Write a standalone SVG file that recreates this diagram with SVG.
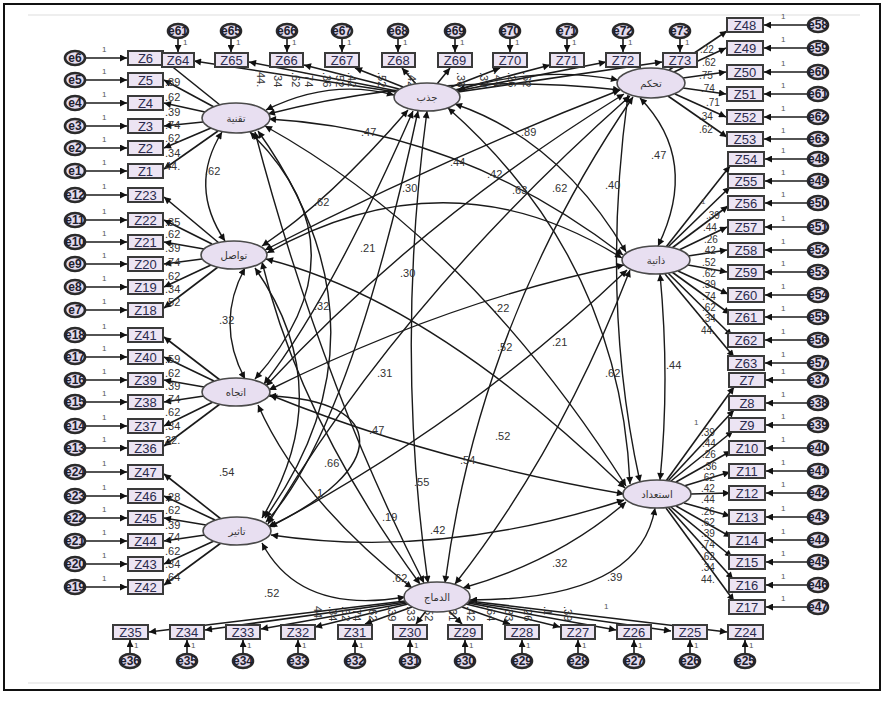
<svg xmlns="http://www.w3.org/2000/svg" width="890" height="712" viewBox="0 0 890 712">
<style>
.bx{fill:#ece4f3;stroke:#3a3a3a;stroke-width:2}
.bt{font-family:"Liberation Sans",Arial,sans-serif;font-size:13px;fill:#2b2b4d;text-anchor:middle}
.er{fill:#e4dcef;stroke:#2a2a2a;stroke-width:2.6}
.et{font-family:"Liberation Sans",Arial,sans-serif;font-size:12px;font-weight:bold;fill:#1e1e2e;text-anchor:middle}
.lv{fill:#e8dff1;stroke:#4a4a4a;stroke-width:1.6}
.lt{font-family:"DejaVu Sans","Noto Sans",sans-serif;font-size:10px;fill:#333;text-anchor:middle}
.ln{stroke:#1a1a1a;stroke-width:1.6;fill:none;marker-end:url(#ah)}
.cv{stroke:#1a1a1a;stroke-width:1.4;fill:none;marker-start:url(#ah);marker-end:url(#ah)}
.lb{font-family:"Liberation Sans",Arial,sans-serif;font-size:11px;fill:#333}
.ls{font-family:"Liberation Sans",Arial,sans-serif;font-size:10px;fill:#333}
.one{font-family:"Liberation Sans",Arial,sans-serif;font-size:8px;fill:#555}
</style>
<defs>
<marker id="ah" viewBox="0 0 10 10" refX="10" refY="5" markerWidth="10" markerHeight="7" markerUnits="userSpaceOnUse" orient="auto-start-reverse"><path d="M0,0 L10,5 L0,10 z" fill="#111"/></marker>
</defs>
<rect x="0" y="0" width="890" height="712" fill="#fff"/>
<rect x="4" y="4" width="876" height="686" fill="none" stroke="#111" stroke-width="2"/>
<line x1="28" y1="15" x2="860" y2="15" stroke="#eeeeee" stroke-width="2"/>
<line x1="28" y1="683" x2="860" y2="683" stroke="#eeeeee" stroke-width="2"/>

<g id="connectors">
<!-- covariances between latent factors -->
<path class="cv" d="M222,132 Q188,186 225,241"/>
<path class="cv" d="M250,132 Q370,250 255,379"/>
<path class="cv" d="M258,131 Q400,330 265,518"/>
<path class="cv" d="M245,268 Q215,323 245,379"/>
<path class="cv" d="M255,268 Q340,390 262,518"/>
<path class="cv" d="M269,396 C390,400 390,470 268,527"/>
<path class="cv" d="M266,110 Q330,78 394,95"/>
<path class="cv" d="M268,114 Q440,70 620,90"/>
<path class="cv" d="M269,119 Q460,130 623,255"/>
<path class="cv" d="M265,126 Q470,240 626,486"/>
<path class="cv" d="M255,132 Q320,380 424,583"/>
<path class="cv" d="M458,90 Q540,65 618,80"/>
<path class="cv" d="M408,110 Q330,200 262,246"/>
<path class="cv" d="M413,111 Q330,300 264,384"/>
<path class="cv" d="M418,111 Q350,430 266,522"/>
<path class="cv" d="M455,104 Q560,140 626,252"/>
<path class="cv" d="M448,108 Q620,260 630,484"/>
<path class="cv" d="M427,111 Q395,350 428,583"/>
<path class="cv" d="M620,90 Q440,160 265,250"/>
<path class="cv" d="M624,94 Q420,220 266,386"/>
<path class="cv" d="M630,96 Q400,300 268,524"/>
<path class="cv" d="M640,98 Q700,160 658,246"/>
<path class="cv" d="M628,95 Q600,300 640,482"/>
<path class="cv" d="M633,97 Q480,320 445,583"/>
<path class="cv" d="M622,258 Q450,150 267,253"/>
<path class="cv" d="M624,265 Q450,300 269,390"/>
<path class="cv" d="M627,270 Q470,420 270,527"/>
<path class="cv" d="M660,274 Q670,380 660,480"/>
<path class="cv" d="M630,270 Q560,450 455,584"/>
<path class="cv" d="M625,488 Q430,300 266,259"/>
<path class="cv" d="M624,494 Q430,460 270,395"/>
<path class="cv" d="M624,500 Q440,560 271,535"/>
<path class="cv" d="M470,600 Q640,600 655,508"/>
<path class="cv" d="M463,588 Q560,560 626,502"/>
<path class="cv" d="M420,584 Q300,420 262,262"/>
<path class="cv" d="M412,588 Q300,500 258,405"/>
<path class="cv" d="M405,597 Q300,615 262,543"/>

<!-- loadings: left factors -->
<line class="ln" x1="220" y1="105" x2="164" y2="60"/>
<line class="ln" x1="214" y1="107" x2="164" y2="80"/>
<line class="ln" x1="205" y1="112" x2="164" y2="103"/>
<line class="ln" x1="203" y1="122" x2="164" y2="126"/>
<line class="ln" x1="211" y1="128" x2="164" y2="148"/>
<line class="ln" x1="218" y1="131" x2="164" y2="169"/>

<line class="ln" x1="219" y1="243" x2="164" y2="197"/>
<line class="ln" x1="212" y1="244" x2="164" y2="220"/>
<line class="ln" x1="204" y1="249" x2="164" y2="242"/>
<line class="ln" x1="202" y1="259" x2="164" y2="264"/>
<line class="ln" x1="211" y1="265" x2="164" y2="287"/>
<line class="ln" x1="218" y1="267" x2="164" y2="308"/>

<line class="ln" x1="220" y1="380" x2="164" y2="337"/>
<line class="ln" x1="214" y1="381" x2="164" y2="357"/>
<line class="ln" x1="204" y1="387" x2="164" y2="380"/>
<line class="ln" x1="204" y1="396" x2="164" y2="402"/>
<line class="ln" x1="213" y1="402" x2="164" y2="426"/>
<line class="ln" x1="220" y1="404" x2="164" y2="446"/>

<line class="ln" x1="221" y1="519" x2="164" y2="474"/>
<line class="ln" x1="215" y1="520" x2="164" y2="496"/>
<line class="ln" x1="206" y1="525" x2="164" y2="518"/>
<line class="ln" x1="205" y1="535" x2="164" y2="541"/>
<line class="ln" x1="214" y1="541" x2="164" y2="564"/>
<line class="ln" x1="221" y1="543" x2="164" y2="585"/>

<!-- loadings: top factor -->
<line class="ln" x1="396" y1="92" x2="194" y2="61"/>
<line class="ln" x1="397" y1="91" x2="249" y2="62"/>
<line class="ln" x1="399" y1="89" x2="304" y2="65"/>
<line class="ln" x1="403" y1="87" x2="355" y2="68"/>
<line class="ln" x1="416" y1="84" x2="402" y2="68"/>
<line class="ln" x1="437" y1="84" x2="450" y2="68"/>
<line class="ln" x1="451" y1="87" x2="500" y2="68"/>
<line class="ln" x1="455" y1="90" x2="550" y2="65"/>
<line class="ln" x1="457" y1="91" x2="606" y2="62"/>
<line class="ln" x1="458" y1="92" x2="662" y2="62"/>

<!-- loadings: right factors -->
<line class="ln" x1="669" y1="70" x2="727" y2="31"/>
<line class="ln" x1="674" y1="72" x2="726" y2="48"/>
<line class="ln" x1="683" y1="78" x2="726" y2="72"/>
<line class="ln" x1="683" y1="88" x2="726" y2="94"/>
<line class="ln" x1="675" y1="94" x2="726" y2="117"/>
<line class="ln" x1="668" y1="96" x2="727" y2="137"/>

<line class="ln" x1="666" y1="247" x2="730" y2="166"/>
<line class="ln" x1="668" y1="247" x2="730" y2="187"/>
<line class="ln" x1="672" y1="248" x2="728" y2="206"/>
<line class="ln" x1="679" y1="250" x2="727" y2="227"/>
<line class="ln" x1="688" y1="256" x2="727" y2="250"/>
<line class="ln" x1="688" y1="265" x2="727" y2="272"/>
<line class="ln" x1="678" y1="271" x2="728" y2="294"/>
<line class="ln" x1="672" y1="272" x2="730" y2="314"/>
<line class="ln" x1="668" y1="273" x2="732" y2="336"/>
<line class="ln" x1="665" y1="274" x2="734" y2="357"/>

<line class="ln" x1="666" y1="481" x2="734" y2="387"/>
<line class="ln" x1="668" y1="481" x2="734" y2="410"/>
<line class="ln" x1="671" y1="481" x2="733" y2="431"/>
<line class="ln" x1="676" y1="482" x2="731" y2="451"/>
<line class="ln" x1="684" y1="486" x2="730" y2="472"/>
<line class="ln" x1="691" y1="494" x2="730" y2="493"/>
<line class="ln" x1="684" y1="503" x2="730" y2="516"/>
<line class="ln" x1="676" y1="506" x2="731" y2="537"/>
<line class="ln" x1="671" y1="507" x2="732" y2="557"/>
<line class="ln" x1="668" y1="507" x2="733" y2="579"/>
<line class="ln" x1="666" y1="508" x2="734" y2="601"/>

<!-- loadings: bottom factor -->
<line class="ln" x1="405" y1="601" x2="149" y2="632"/>
<line class="ln" x1="406" y1="602" x2="205" y2="630"/>
<line class="ln" x1="407" y1="603" x2="261" y2="629"/>
<line class="ln" x1="408" y1="604" x2="315" y2="627"/>
<line class="ln" x1="412" y1="607" x2="365" y2="624"/>
<line class="ln" x1="426" y1="611" x2="416" y2="624"/>
<line class="ln" x1="449" y1="611" x2="462" y2="624"/>
<line class="ln" x1="462" y1="607" x2="510" y2="624"/>
<line class="ln" x1="466" y1="604" x2="560" y2="627"/>
<line class="ln" x1="468" y1="603" x2="616" y2="630"/>
<line class="ln" x1="468" y1="602" x2="671" y2="631"/>
<line class="ln" x1="469" y1="601" x2="727" y2="632"/>

<!-- error arrows left -->
<line class="ln" x1="86" y1="58" x2="127" y2="58"/>
<line class="ln" x1="86" y1="80" x2="127" y2="80"/>
<line class="ln" x1="86" y1="103" x2="127" y2="103"/>
<line class="ln" x1="86" y1="126" x2="127" y2="126"/>
<line class="ln" x1="86" y1="148" x2="127" y2="148"/>
<line class="ln" x1="86" y1="171" x2="127" y2="171"/>
<line class="ln" x1="86" y1="195" x2="127" y2="195"/>
<line class="ln" x1="86" y1="220" x2="127" y2="220"/>
<line class="ln" x1="86" y1="242" x2="127" y2="242"/>
<line class="ln" x1="86" y1="264" x2="127" y2="264"/>
<line class="ln" x1="86" y1="287" x2="127" y2="287"/>
<line class="ln" x1="86" y1="310" x2="127" y2="310"/>
<line class="ln" x1="86" y1="335" x2="127" y2="335"/>
<line class="ln" x1="86" y1="357" x2="127" y2="357"/>
<line class="ln" x1="86" y1="380" x2="127" y2="380"/>
<line class="ln" x1="86" y1="402" x2="127" y2="402"/>
<line class="ln" x1="86" y1="426" x2="127" y2="426"/>
<line class="ln" x1="86" y1="448" x2="127" y2="448"/>
<line class="ln" x1="86" y1="472" x2="127" y2="472"/>
<line class="ln" x1="86" y1="496" x2="127" y2="496"/>
<line class="ln" x1="86" y1="518" x2="127" y2="518"/>
<line class="ln" x1="86" y1="541" x2="127" y2="541"/>
<line class="ln" x1="86" y1="564" x2="127" y2="564"/>
<line class="ln" x1="86" y1="587" x2="127" y2="587"/>
<!-- error arrows top -->
<line class="ln" x1="178" y1="38" x2="178" y2="52"/>
<line class="ln" x1="231" y1="38" x2="231" y2="52"/>
<line class="ln" x1="287" y1="38" x2="287" y2="52"/>
<line class="ln" x1="342" y1="38" x2="342" y2="52"/>
<line class="ln" x1="398" y1="38" x2="398" y2="52"/>
<line class="ln" x1="455" y1="38" x2="455" y2="52"/>
<line class="ln" x1="510" y1="38" x2="510" y2="52"/>
<line class="ln" x1="567" y1="38" x2="567" y2="52"/>
<line class="ln" x1="623" y1="38" x2="623" y2="52"/>
<line class="ln" x1="680" y1="38" x2="680" y2="52"/>
<!-- error arrows right -->
<line class="ln" x1="807" y1="25" x2="764" y2="25"/>
<line class="ln" x1="807" y1="48" x2="764" y2="48"/>
<line class="ln" x1="807" y1="72" x2="764" y2="72"/>
<line class="ln" x1="807" y1="94" x2="764" y2="94"/>
<line class="ln" x1="807" y1="117" x2="764" y2="117"/>
<line class="ln" x1="807" y1="139" x2="764" y2="139"/>
<line class="ln" x1="807" y1="159" x2="765" y2="159"/>
<line class="ln" x1="807" y1="181" x2="765" y2="181"/>
<line class="ln" x1="807" y1="203" x2="765" y2="203"/>
<line class="ln" x1="807" y1="227" x2="765" y2="227"/>
<line class="ln" x1="807" y1="250" x2="765" y2="250"/>
<line class="ln" x1="807" y1="272" x2="765" y2="272"/>
<line class="ln" x1="807" y1="295" x2="765" y2="295"/>
<line class="ln" x1="807" y1="317" x2="765" y2="317"/>
<line class="ln" x1="807" y1="340" x2="765" y2="340"/>
<line class="ln" x1="807" y1="363" x2="765" y2="363"/>
<line class="ln" x1="807" y1="380" x2="766" y2="380"/>
<line class="ln" x1="807" y1="403" x2="766" y2="403"/>
<line class="ln" x1="807" y1="425" x2="766" y2="425"/>
<line class="ln" x1="807" y1="448" x2="766" y2="448"/>
<line class="ln" x1="807" y1="471" x2="766" y2="471"/>
<line class="ln" x1="807" y1="493" x2="766" y2="493"/>
<line class="ln" x1="807" y1="517" x2="766" y2="517"/>
<line class="ln" x1="807" y1="540" x2="766" y2="540"/>
<line class="ln" x1="807" y1="562" x2="766" y2="562"/>
<line class="ln" x1="807" y1="585" x2="766" y2="585"/>
<line class="ln" x1="807" y1="607" x2="766" y2="607"/>
<!-- error arrows bottom -->
<line class="ln" x1="130" y1="654" x2="130" y2="640"/>
<line class="ln" x1="187" y1="654" x2="187" y2="640"/>
<line class="ln" x1="243" y1="654" x2="243" y2="640"/>
<line class="ln" x1="298" y1="654" x2="298" y2="640"/>
<line class="ln" x1="355" y1="654" x2="355" y2="640"/>
<line class="ln" x1="410" y1="654" x2="410" y2="640"/>
<line class="ln" x1="465" y1="654" x2="465" y2="640"/>
<line class="ln" x1="522" y1="654" x2="522" y2="640"/>
<line class="ln" x1="578" y1="654" x2="578" y2="640"/>
<line class="ln" x1="634" y1="654" x2="634" y2="640"/>
<line class="ln" x1="690" y1="654" x2="690" y2="640"/>
<line class="ln" x1="745" y1="654" x2="745" y2="640"/>
</g>

<g id="fixed-ones">
<text class="one" x="102" y="52">1</text><text class="one" x="102" y="74">1</text><text class="one" x="102" y="97">1</text><text class="one" x="102" y="120">1</text><text class="one" x="102" y="142">1</text><text class="one" x="102" y="165">1</text><text class="one" x="102" y="189">1</text><text class="one" x="102" y="214">1</text><text class="one" x="102" y="236">1</text><text class="one" x="102" y="258">1</text><text class="one" x="102" y="281">1</text><text class="one" x="102" y="304">1</text><text class="one" x="102" y="329">1</text><text class="one" x="102" y="351">1</text><text class="one" x="102" y="374">1</text><text class="one" x="102" y="396">1</text><text class="one" x="102" y="420">1</text><text class="one" x="102" y="442">1</text><text class="one" x="102" y="466">1</text><text class="one" x="102" y="490">1</text><text class="one" x="102" y="512">1</text><text class="one" x="102" y="535">1</text><text class="one" x="102" y="558">1</text><text class="one" x="102" y="581">1</text>
<text class="one" x="183" y="45">1</text><text class="one" x="236" y="45">1</text><text class="one" x="292" y="45">1</text><text class="one" x="347" y="45">1</text><text class="one" x="403" y="45">1</text><text class="one" x="460" y="45">1</text><text class="one" x="515" y="45">1</text><text class="one" x="572" y="45">1</text><text class="one" x="628" y="45">1</text><text class="one" x="685" y="45">1</text>
<text class="one" x="781" y="19">1</text><text class="one" x="781" y="42">1</text><text class="one" x="781" y="66">1</text><text class="one" x="781" y="88">1</text><text class="one" x="781" y="111">1</text><text class="one" x="781" y="133">1</text><text class="one" x="781" y="153">1</text><text class="one" x="781" y="175">1</text><text class="one" x="781" y="197">1</text><text class="one" x="781" y="221">1</text><text class="one" x="781" y="244">1</text><text class="one" x="781" y="266">1</text><text class="one" x="781" y="289">1</text><text class="one" x="781" y="311">1</text><text class="one" x="781" y="334">1</text><text class="one" x="781" y="357">1</text><text class="one" x="781" y="374">1</text><text class="one" x="781" y="397">1</text><text class="one" x="781" y="419">1</text><text class="one" x="781" y="442">1</text><text class="one" x="781" y="465">1</text><text class="one" x="781" y="487">1</text><text class="one" x="781" y="511">1</text><text class="one" x="781" y="534">1</text><text class="one" x="781" y="556">1</text><text class="one" x="781" y="579">1</text><text class="one" x="781" y="601">1</text>
<text class="one" x="134" y="648">1</text><text class="one" x="191" y="648">1</text><text class="one" x="247" y="648">1</text><text class="one" x="302" y="648">1</text><text class="one" x="359" y="648">1</text><text class="one" x="414" y="648">1</text><text class="one" x="469" y="648">1</text><text class="one" x="526" y="648">1</text><text class="one" x="582" y="648">1</text><text class="one" x="638" y="648">1</text><text class="one" x="694" y="648">1</text><text class="one" x="749" y="648">1</text>
<text class="one" x="701" y="204">1</text><text class="one" x="694" y="425">1</text><text class="one" x="604" y="609">1</text>
</g>

<g id="loading-labels">
<text class="lb" x="165" y="86">.89</text><text class="lb" x="165" y="101">.62</text><text class="lb" x="165" y="116">.39</text><text class="lb" x="165" y="129">.74</text><text class="lb" x="165" y="142">.62</text><text class="lb" x="165" y="157">.34</text><text class="lb" x="165" y="170">44.</text>
<text class="lb" x="165" y="226">.35</text><text class="lb" x="165" y="238">.62</text><text class="lb" x="165" y="252">.39</text><text class="lb" x="165" y="266">.74</text><text class="lb" x="165" y="280">.62</text><text class="lb" x="165" y="293">.34</text><text class="lb" x="165" y="306">.52</text>
<text class="lb" x="165" y="363">.59</text><text class="lb" x="165" y="377">.62</text><text class="lb" x="165" y="390">.39</text><text class="lb" x="165" y="403">.74</text><text class="lb" x="165" y="416">.62</text><text class="lb" x="165" y="430">.34</text><text class="lb" x="165" y="444">32.</text>
<text class="lb" x="165" y="501">.28</text><text class="lb" x="165" y="514">.62</text><text class="lb" x="165" y="529">.39</text><text class="lb" x="165" y="541">.74</text><text class="lb" x="165" y="555">.62</text><text class="lb" x="165" y="568">.34</text><text class="lb" x="165" y="581">.64</text>
<text class="ls" x="700" y="53">.22</text><text class="ls" x="702" y="66">.62</text><text class="ls" x="699" y="79">.75</text><text class="ls" x="701" y="92">.74</text><text class="ls" x="706" y="106">.71</text><text class="ls" x="699" y="120">.34</text><text class="ls" x="699" y="133">.62</text>
<text class="ls" x="706" y="219">.39</text><text class="ls" x="703" y="231">.44</text><text class="ls" x="704" y="243">.26</text><text class="ls" x="702" y="254">.42</text><text class="ls" x="702" y="266">.52</text><text class="ls" x="702" y="277">.62</text><text class="ls" x="702" y="288">.39</text><text class="ls" x="702" y="300">.74</text><text class="ls" x="702" y="311">.62</text><text class="ls" x="702" y="322">.34</text><text class="ls" x="701" y="334">44.</text>
<text class="ls" x="701" y="436">.39</text><text class="ls" x="702" y="447">.44</text><text class="ls" x="702" y="458">.26</text><text class="ls" x="703" y="470">.36</text><text class="ls" x="701" y="481">.62</text><text class="ls" x="701" y="492">.42</text><text class="ls" x="701" y="503">.44</text><text class="ls" x="701" y="515">.26</text><text class="ls" x="701" y="526">.62</text><text class="ls" x="701" y="537">.39</text><text class="ls" x="701" y="548">.74</text><text class="ls" x="701" y="560">.62</text><text class="ls" x="701" y="571">.34</text><text class="ls" x="701" y="583">44.</text>
<text class="lb" transform="translate(257,72) rotate(90)">44.</text>
<text class="lb" transform="translate(274,72) rotate(90)">.34</text>
<text class="lb" transform="translate(292,72) rotate(90)">.62</text>
<text class="lb" transform="translate(305,72) rotate(90)">.74</text>
<text class="lb" transform="translate(323,72) rotate(90)">.36</text>
<text class="lb" transform="translate(336,72) rotate(90)">.52</text>
<text class="lb" transform="translate(348,72) rotate(90)">.42</text>
<text class="lb" transform="translate(378,72) rotate(90)">.52</text>
<text class="lb" transform="translate(408,72) rotate(90)">.42</text>
<text class="lb" transform="translate(457,72) rotate(90)">.36</text>
<text class="lb" transform="translate(480,72) rotate(90)">.39</text>
<text class="lb" transform="translate(494,72) rotate(90)">.44</text>
<text class="lb" transform="translate(508,72) rotate(90)">.26</text>
<text class="lb" transform="translate(523,72) rotate(90)">.62</text>
<text class="lb" transform="translate(314,606) rotate(90)">44.</text>
<text class="lb" transform="translate(329,606) rotate(90)">.34</text>
<text class="lb" transform="translate(342,606) rotate(90)">.62</text>
<text class="lb" transform="translate(353,606) rotate(90)">.74</text>
<text class="lb" transform="translate(369,606) rotate(90)">.62</text>
<text class="lb" transform="translate(388,606) rotate(90)">.39</text>
<text class="lb" transform="translate(407,606) rotate(90)">.33</text>
<text class="lb" transform="translate(425,606) rotate(90)">.52</text>
<text class="lb" transform="translate(449,606) rotate(90)">.31</text>
<text class="lb" transform="translate(467,606) rotate(90)">.42</text>
<text class="lb" transform="translate(487,606) rotate(90)">.64</text>
<text class="lb" transform="translate(505,606) rotate(90)">.33</text>
<text class="lb" transform="translate(524,606) rotate(90)">.26</text>
<text class="lb" transform="translate(544,606) rotate(90)">.1</text>
<text class="lb" transform="translate(564,606) rotate(90)">.39</text>
</g>

<g id="covariance-labels">
<text class="lb" x="361" y="136">.47</text><text class="lb" x="521" y="136">.89</text><text class="lb" x="651" y="159">.47</text><text class="lb" x="205" y="175">.62</text>
<text class="lb" x="450" y="166">.44</text><text class="lb" x="487" y="178">.42</text><text class="lb" x="402" y="192">.30</text><text class="lb" x="512" y="194">.63</text>
<text class="lb" x="552" y="192">.62</text><text class="lb" x="605" y="189">.40</text><text class="lb" x="314" y="206">.62</text><text class="lb" x="360" y="252">.21</text>
<text class="lb" x="400" y="277">.30</text><text class="lb" x="314" y="310">.32</text><text class="lb" x="219" y="324">.32</text><text class="lb" x="494" y="312">.22</text>
<text class="lb" x="497" y="351">.52</text><text class="lb" x="552" y="346">.21</text><text class="lb" x="666" y="369">.44</text><text class="lb" x="377" y="377">.31</text>
<text class="lb" x="605" y="377">.62</text><text class="lb" x="369" y="434">.47</text><text class="lb" x="495" y="440">.52</text><text class="lb" x="324" y="467">.66</text>
<text class="lb" x="219" y="476">.54</text><text class="lb" x="460" y="464">.54</text><text class="lb" x="414" y="486">.55</text><text class="lb" x="314" y="497">.1</text>
<text class="lb" x="382" y="521">.19</text><text class="lb" x="430" y="534">.42</text><text class="lb" x="552" y="567">.32</text><text class="lb" x="607" y="581">.39</text>
<text class="lb" x="392" y="582">.62</text><text class="lb" x="264" y="597">.52</text>
</g>

<g id="latent-taqniya"><ellipse class="lv" cx="236" cy="118" rx="34" ry="15"/><text class="lt" x="236" y="122">تقنية</text></g>
<g id="latent-tawasul"><ellipse class="lv" cx="234" cy="255" rx="33" ry="14"/><text class="lt" x="234" y="259">تواصل</text></g>
<g id="latent-ittijah"><ellipse class="lv" cx="236" cy="392" rx="34" ry="14"/><text class="lt" x="236" y="396">اتجاه</text></g>
<g id="latent-tathir"><ellipse class="lv" cx="237" cy="531" rx="34" ry="14"/><text class="lt" x="237" y="535">تاثير</text></g>
<g id="latent-jathb"><ellipse class="lv" cx="427" cy="97" rx="33" ry="14"/><text class="lt" x="427" y="101">جذب</text></g>
<g id="latent-tahakkum"><ellipse class="lv" cx="651" cy="83" rx="34" ry="15"/><text class="lt" x="651" y="87">تحكم</text></g>
<g id="latent-dhatiya"><ellipse class="lv" cx="656" cy="260" rx="34" ry="14"/><text class="lt" x="656" y="264">ذاتية</text></g>
<g id="latent-istidad"><ellipse class="lv" cx="657" cy="494" rx="34" ry="14"/><text class="lt" x="657" y="498">استعداد</text></g>
<g id="latent-indimaj"><ellipse class="lv" cx="437" cy="597" rx="33" ry="15"/><text class="lt" x="437" y="601">الدماج</text></g>

<g id="left-indicators">
<g id="Z6"><rect class="bx" x="128" y="51" width="35" height="14"/><text class="bt" x="145.5" y="63">Z6</text><ellipse class="er" cx="75" cy="58" rx="10" ry="7"/><text class="et" x="75" y="62">e6</text></g>
<g id="Z5"><rect class="bx" x="128" y="73" width="35" height="14"/><text class="bt" x="145.5" y="85">Z5</text><ellipse class="er" cx="75" cy="80" rx="10" ry="7"/><text class="et" x="75" y="84">e5</text></g>
<g id="Z4"><rect class="bx" x="128" y="96" width="35" height="14"/><text class="bt" x="145.5" y="108">Z4</text><ellipse class="er" cx="75" cy="103" rx="10" ry="7"/><text class="et" x="75" y="107">e4</text></g>
<g id="Z3"><rect class="bx" x="128" y="119" width="35" height="14"/><text class="bt" x="145.5" y="131">Z3</text><ellipse class="er" cx="75" cy="126" rx="10" ry="7"/><text class="et" x="75" y="130">e3</text></g>
<g id="Z2"><rect class="bx" x="128" y="141" width="35" height="14"/><text class="bt" x="145.5" y="153">Z2</text><ellipse class="er" cx="75" cy="148" rx="10" ry="7"/><text class="et" x="75" y="152">e2</text></g>
<g id="Z1"><rect class="bx" x="128" y="164" width="35" height="14"/><text class="bt" x="145.5" y="176">Z1</text><ellipse class="er" cx="75" cy="171" rx="10" ry="7"/><text class="et" x="75" y="175">e1</text></g>
<g id="Z23"><rect class="bx" x="128" y="188" width="35" height="14"/><text class="bt" x="145.5" y="200">Z23</text><ellipse class="er" cx="75" cy="195" rx="10" ry="7"/><text class="et" x="75" y="199">e12</text></g>
<g id="Z22"><rect class="bx" x="128" y="213" width="35" height="14"/><text class="bt" x="145.5" y="225">Z22</text><ellipse class="er" cx="75" cy="220" rx="10" ry="7"/><text class="et" x="75" y="224">e11</text></g>
<g id="Z21"><rect class="bx" x="128" y="235" width="35" height="14"/><text class="bt" x="145.5" y="247">Z21</text><ellipse class="er" cx="75" cy="242" rx="10" ry="7"/><text class="et" x="75" y="246">e10</text></g>
<g id="Z20"><rect class="bx" x="128" y="257" width="35" height="14"/><text class="bt" x="145.5" y="269">Z20</text><ellipse class="er" cx="75" cy="264" rx="10" ry="7"/><text class="et" x="75" y="268">e9</text></g>
<g id="Z19"><rect class="bx" x="128" y="280" width="35" height="14"/><text class="bt" x="145.5" y="292">Z19</text><ellipse class="er" cx="75" cy="287" rx="10" ry="7"/><text class="et" x="75" y="291">e8</text></g>
<g id="Z18"><rect class="bx" x="128" y="303" width="35" height="14"/><text class="bt" x="145.5" y="315">Z18</text><ellipse class="er" cx="75" cy="310" rx="10" ry="7"/><text class="et" x="75" y="314">e7</text></g>
<g id="Z41"><rect class="bx" x="128" y="328" width="35" height="14"/><text class="bt" x="145.5" y="340">Z41</text><ellipse class="er" cx="75" cy="335" rx="10" ry="7"/><text class="et" x="75" y="339">e18</text></g>
<g id="Z40"><rect class="bx" x="128" y="350" width="35" height="14"/><text class="bt" x="145.5" y="362">Z40</text><ellipse class="er" cx="75" cy="357" rx="10" ry="7"/><text class="et" x="75" y="361">e17</text></g>
<g id="Z39"><rect class="bx" x="128" y="373" width="35" height="14"/><text class="bt" x="145.5" y="385">Z39</text><ellipse class="er" cx="75" cy="380" rx="10" ry="7"/><text class="et" x="75" y="384">e16</text></g>
<g id="Z38"><rect class="bx" x="128" y="395" width="35" height="14"/><text class="bt" x="145.5" y="407">Z38</text><ellipse class="er" cx="75" cy="402" rx="10" ry="7"/><text class="et" x="75" y="406">e15</text></g>
<g id="Z37"><rect class="bx" x="128" y="419" width="35" height="14"/><text class="bt" x="145.5" y="431">Z37</text><ellipse class="er" cx="75" cy="426" rx="10" ry="7"/><text class="et" x="75" y="430">e14</text></g>
<g id="Z36"><rect class="bx" x="128" y="441" width="35" height="14"/><text class="bt" x="145.5" y="453">Z36</text><ellipse class="er" cx="75" cy="448" rx="10" ry="7"/><text class="et" x="75" y="452">e13</text></g>
<g id="Z47"><rect class="bx" x="128" y="465" width="35" height="14"/><text class="bt" x="145.5" y="477">Z47</text><ellipse class="er" cx="75" cy="472" rx="10" ry="7"/><text class="et" x="75" y="476">e24</text></g>
<g id="Z46"><rect class="bx" x="128" y="489" width="35" height="14"/><text class="bt" x="145.5" y="501">Z46</text><ellipse class="er" cx="75" cy="496" rx="10" ry="7"/><text class="et" x="75" y="500">e23</text></g>
<g id="Z45"><rect class="bx" x="128" y="511" width="35" height="14"/><text class="bt" x="145.5" y="523">Z45</text><ellipse class="er" cx="75" cy="518" rx="10" ry="7"/><text class="et" x="75" y="522">e22</text></g>
<g id="Z44"><rect class="bx" x="128" y="534" width="35" height="14"/><text class="bt" x="145.5" y="546">Z44</text><ellipse class="er" cx="75" cy="541" rx="10" ry="7"/><text class="et" x="75" y="545">e21</text></g>
<g id="Z43"><rect class="bx" x="128" y="557" width="35" height="14"/><text class="bt" x="145.5" y="569">Z43</text><ellipse class="er" cx="75" cy="564" rx="10" ry="7"/><text class="et" x="75" y="568">e20</text></g>
<g id="Z42"><rect class="bx" x="128" y="580" width="35" height="14"/><text class="bt" x="145.5" y="592">Z42</text><ellipse class="er" cx="75" cy="587" rx="10" ry="7"/><text class="et" x="75" y="591">e19</text></g>
</g>

<g id="top-indicators">
<g id="Z64"><rect class="bx" x="162" y="53" width="32" height="14"/><text class="bt" x="178" y="65">Z64</text><ellipse class="er" cx="178" cy="31" rx="10" ry="7"/><text class="et" x="178" y="35">e61</text></g>
<g id="Z65"><rect class="bx" x="215" y="53" width="33" height="14"/><text class="bt" x="231.5" y="65">Z65</text><ellipse class="er" cx="231" cy="31" rx="10" ry="7"/><text class="et" x="231" y="35">e65</text></g>
<g id="Z66"><rect class="bx" x="270" y="53" width="33" height="14"/><text class="bt" x="286.5" y="65">Z66</text><ellipse class="er" cx="287" cy="31" rx="10" ry="7"/><text class="et" x="287" y="35">e66</text></g>
<g id="Z67"><rect class="bx" x="325" y="53" width="34" height="14"/><text class="bt" x="342" y="65">Z67</text><ellipse class="er" cx="342" cy="31" rx="10" ry="7"/><text class="et" x="342" y="35">e67</text></g>
<g id="Z68"><rect class="bx" x="382" y="53" width="33" height="14"/><text class="bt" x="398.5" y="65">Z68</text><ellipse class="er" cx="398" cy="31" rx="10" ry="7"/><text class="et" x="398" y="35">e68</text></g>
<g id="Z69"><rect class="bx" x="438" y="53" width="34" height="14"/><text class="bt" x="455" y="65">Z69</text><ellipse class="er" cx="455" cy="31" rx="10" ry="7"/><text class="et" x="455" y="35">e69</text></g>
<g id="Z70"><rect class="bx" x="493" y="53" width="34" height="14"/><text class="bt" x="510" y="65">Z70</text><ellipse class="er" cx="510" cy="31" rx="10" ry="7"/><text class="et" x="510" y="35">e70</text></g>
<g id="Z71"><rect class="bx" x="550" y="53" width="34" height="14"/><text class="bt" x="567" y="65">Z71</text><ellipse class="er" cx="567" cy="31" rx="10" ry="7"/><text class="et" x="567" y="35">e71</text></g>
<g id="Z72"><rect class="bx" x="606" y="53" width="34" height="14"/><text class="bt" x="623" y="65">Z72</text><ellipse class="er" cx="623" cy="31" rx="10" ry="7"/><text class="et" x="623" y="35">e72</text></g>
<g id="Z73"><rect class="bx" x="663" y="53" width="34" height="14"/><text class="bt" x="680" y="65">Z73</text><ellipse class="er" cx="680" cy="31" rx="10" ry="7"/><text class="et" x="680" y="35">e73</text></g>
</g>

<g id="right-indicators">
<g id="Z48"><rect class="bx" x="727" y="18" width="36" height="14"/><text class="bt" x="745" y="30">Z48</text><ellipse class="er" cx="818" cy="25" rx="10" ry="7"/><text class="et" x="818" y="29">e58</text></g>
<g id="Z49"><rect class="bx" x="727" y="41" width="36" height="14"/><text class="bt" x="745" y="53">Z49</text><ellipse class="er" cx="818" cy="48" rx="10" ry="7"/><text class="et" x="818" y="52">e59</text></g>
<g id="Z50"><rect class="bx" x="727" y="65" width="36" height="14"/><text class="bt" x="745" y="77">Z50</text><ellipse class="er" cx="818" cy="72" rx="10" ry="7"/><text class="et" x="818" y="76">e60</text></g>
<g id="Z51"><rect class="bx" x="727" y="87" width="36" height="14"/><text class="bt" x="745" y="99">Z51</text><ellipse class="er" cx="818" cy="94" rx="10" ry="7"/><text class="et" x="818" y="98">e61</text></g>
<g id="Z52"><rect class="bx" x="727" y="110" width="36" height="14"/><text class="bt" x="745" y="122">Z52</text><ellipse class="er" cx="818" cy="117" rx="10" ry="7"/><text class="et" x="818" y="121">e62</text></g>
<g id="Z53"><rect class="bx" x="727" y="132" width="36" height="14"/><text class="bt" x="745" y="144">Z53</text><ellipse class="er" cx="818" cy="139" rx="10" ry="7"/><text class="et" x="818" y="143">e63</text></g>
<g id="Z54"><rect class="bx" x="728" y="152" width="36" height="14"/><text class="bt" x="746" y="164">Z54</text><ellipse class="er" cx="818" cy="159" rx="10" ry="7"/><text class="et" x="818" y="163">e48</text></g>
<g id="Z55"><rect class="bx" x="728" y="174" width="36" height="14"/><text class="bt" x="746" y="186">Z55</text><ellipse class="er" cx="818" cy="181" rx="10" ry="7"/><text class="et" x="818" y="185">e49</text></g>
<g id="Z56"><rect class="bx" x="728" y="196" width="36" height="14"/><text class="bt" x="746" y="208">Z56</text><ellipse class="er" cx="818" cy="203" rx="10" ry="7"/><text class="et" x="818" y="207">e50</text></g>
<g id="Z57"><rect class="bx" x="728" y="220" width="36" height="14"/><text class="bt" x="746" y="232">Z57</text><ellipse class="er" cx="818" cy="227" rx="10" ry="7"/><text class="et" x="818" y="231">e51</text></g>
<g id="Z58"><rect class="bx" x="728" y="243" width="36" height="14"/><text class="bt" x="746" y="255">Z58</text><ellipse class="er" cx="818" cy="250" rx="10" ry="7"/><text class="et" x="818" y="254">e52</text></g>
<g id="Z59"><rect class="bx" x="728" y="265" width="36" height="14"/><text class="bt" x="746" y="277">Z59</text><ellipse class="er" cx="818" cy="272" rx="10" ry="7"/><text class="et" x="818" y="276">e53</text></g>
<g id="Z60"><rect class="bx" x="728" y="288" width="36" height="14"/><text class="bt" x="746" y="300">Z60</text><ellipse class="er" cx="818" cy="295" rx="10" ry="7"/><text class="et" x="818" y="299">e54</text></g>
<g id="Z61"><rect class="bx" x="728" y="310" width="36" height="14"/><text class="bt" x="746" y="322">Z61</text><ellipse class="er" cx="818" cy="317" rx="10" ry="7"/><text class="et" x="818" y="321">e55</text></g>
<g id="Z62"><rect class="bx" x="728" y="333" width="36" height="14"/><text class="bt" x="746" y="345">Z62</text><ellipse class="er" cx="818" cy="340" rx="10" ry="7"/><text class="et" x="818" y="344">e56</text></g>
<g id="Z63"><rect class="bx" x="728" y="356" width="36" height="14"/><text class="bt" x="746" y="368">Z63</text><ellipse class="er" cx="818" cy="363" rx="10" ry="7"/><text class="et" x="818" y="367">e57</text></g>
<g id="Z7"><rect class="bx" x="729" y="373" width="36" height="14"/><text class="bt" x="747" y="385">Z7</text><ellipse class="er" cx="818" cy="380" rx="10" ry="7"/><text class="et" x="818" y="384">e37</text></g>
<g id="Z8"><rect class="bx" x="729" y="396" width="36" height="14"/><text class="bt" x="747" y="408">Z8</text><ellipse class="er" cx="818" cy="403" rx="10" ry="7"/><text class="et" x="818" y="407">e38</text></g>
<g id="Z9"><rect class="bx" x="729" y="418" width="36" height="14"/><text class="bt" x="747" y="430">Z9</text><ellipse class="er" cx="818" cy="425" rx="10" ry="7"/><text class="et" x="818" y="429">e39</text></g>
<g id="Z10"><rect class="bx" x="729" y="441" width="36" height="14"/><text class="bt" x="747" y="453">Z10</text><ellipse class="er" cx="818" cy="448" rx="10" ry="7"/><text class="et" x="818" y="452">e40</text></g>
<g id="Z11"><rect class="bx" x="729" y="464" width="36" height="14"/><text class="bt" x="747" y="476">Z11</text><ellipse class="er" cx="818" cy="471" rx="10" ry="7"/><text class="et" x="818" y="475">e41</text></g>
<g id="Z12"><rect class="bx" x="729" y="486" width="36" height="14"/><text class="bt" x="747" y="498">Z12</text><ellipse class="er" cx="818" cy="493" rx="10" ry="7"/><text class="et" x="818" y="497">e42</text></g>
<g id="Z13"><rect class="bx" x="729" y="510" width="36" height="14"/><text class="bt" x="747" y="522">Z13</text><ellipse class="er" cx="818" cy="517" rx="10" ry="7"/><text class="et" x="818" y="521">e43</text></g>
<g id="Z14"><rect class="bx" x="729" y="533" width="36" height="14"/><text class="bt" x="747" y="545">Z14</text><ellipse class="er" cx="818" cy="540" rx="10" ry="7"/><text class="et" x="818" y="544">e44</text></g>
<g id="Z15"><rect class="bx" x="729" y="555" width="36" height="14"/><text class="bt" x="747" y="567">Z15</text><ellipse class="er" cx="818" cy="562" rx="10" ry="7"/><text class="et" x="818" y="566">e45</text></g>
<g id="Z16"><rect class="bx" x="729" y="578" width="36" height="14"/><text class="bt" x="747" y="590">Z16</text><ellipse class="er" cx="818" cy="585" rx="10" ry="7"/><text class="et" x="818" y="589">e46</text></g>
<g id="Z17"><rect class="bx" x="729" y="600" width="36" height="14"/><text class="bt" x="747" y="612">Z17</text><ellipse class="er" cx="818" cy="607" rx="10" ry="7"/><text class="et" x="818" y="611">e47</text></g>
</g>

<g id="bottom-indicators">
<g id="Z35"><rect class="bx" x="113" y="625" width="35" height="14"/><text class="bt" x="130.5" y="637">Z35</text><ellipse class="er" cx="130" cy="661" rx="10" ry="7"/><text class="et" x="130" y="665">e36</text></g>
<g id="Z34"><rect class="bx" x="170" y="625" width="34" height="14"/><text class="bt" x="187" y="637">Z34</text><ellipse class="er" cx="187" cy="661" rx="10" ry="7"/><text class="et" x="187" y="665">e35</text></g>
<g id="Z33"><rect class="bx" x="226" y="625" width="34" height="14"/><text class="bt" x="243" y="637">Z33</text><ellipse class="er" cx="243" cy="661" rx="10" ry="7"/><text class="et" x="243" y="665">e34</text></g>
<g id="Z32"><rect class="bx" x="281" y="625" width="34" height="14"/><text class="bt" x="298" y="637">Z32</text><ellipse class="er" cx="298" cy="661" rx="10" ry="7"/><text class="et" x="298" y="665">e33</text></g>
<g id="Z31"><rect class="bx" x="338" y="625" width="34" height="14"/><text class="bt" x="355" y="637">Z31</text><ellipse class="er" cx="355" cy="661" rx="10" ry="7"/><text class="et" x="355" y="665">e32</text></g>
<g id="Z30"><rect class="bx" x="393" y="625" width="34" height="14"/><text class="bt" x="410" y="637">Z30</text><ellipse class="er" cx="410" cy="661" rx="10" ry="7"/><text class="et" x="410" y="665">e31</text></g>
<g id="Z29"><rect class="bx" x="448" y="625" width="34" height="14"/><text class="bt" x="465" y="637">Z29</text><ellipse class="er" cx="465" cy="661" rx="10" ry="7"/><text class="et" x="465" y="665">e30</text></g>
<g id="Z28"><rect class="bx" x="505" y="625" width="34" height="14"/><text class="bt" x="522" y="637">Z28</text><ellipse class="er" cx="522" cy="661" rx="10" ry="7"/><text class="et" x="522" y="665">e29</text></g>
<g id="Z27"><rect class="bx" x="561" y="625" width="34" height="14"/><text class="bt" x="578" y="637">Z27</text><ellipse class="er" cx="578" cy="661" rx="10" ry="7"/><text class="et" x="578" y="665">e28</text></g>
<g id="Z26"><rect class="bx" x="617" y="625" width="34" height="14"/><text class="bt" x="634" y="637">Z26</text><ellipse class="er" cx="634" cy="661" rx="10" ry="7"/><text class="et" x="634" y="665">e27</text></g>
<g id="Z25"><rect class="bx" x="673" y="625" width="34" height="14"/><text class="bt" x="690" y="637">Z25</text><ellipse class="er" cx="690" cy="661" rx="10" ry="7"/><text class="et" x="690" y="665">e26</text></g>
<g id="Z24"><rect class="bx" x="728" y="625" width="35" height="14"/><text class="bt" x="745.5" y="637">Z24</text><ellipse class="er" cx="745" cy="661" rx="10" ry="7"/><text class="et" x="745" y="665">e25</text></g>
</g>
</svg>
